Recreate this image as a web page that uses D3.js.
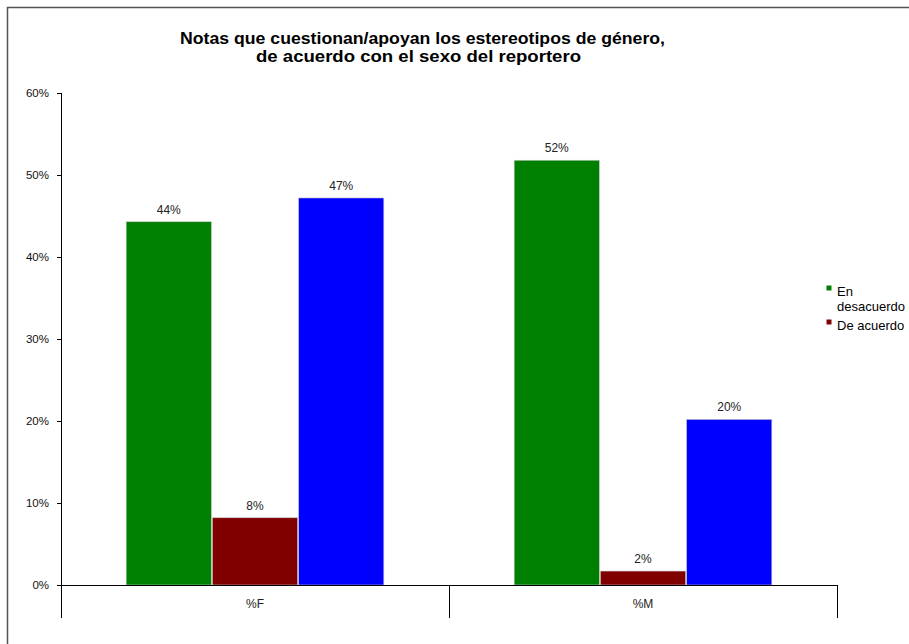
<!DOCTYPE html>
<html>
<head>
<meta charset="utf-8">
<script src="https://cdn.jsdelivr.net/npm/d3@7"></script>
<style>
  body { margin: 0; background: #fff; }
  svg { display: block; font-family: "Liberation Sans", Arial, sans-serif; }
</style>
</head>
<body>
<svg id="chart" width="909" height="644"></svg>
<script>
// Report categories and series (percentages)
const categories = ["%F", "%M"];
const seriesNames = ["En desacuerdo", "De acuerdo", ""];
const seriesColors = ["#008000", "#800000", "#0000FF"];
const enDesacuerdo = [44.3, 51.8];
const deAcuerdo = [8.2, 1.7];
const tercera = [47.2, 20.2];
const yTicks = [0, 10, 20, 30, 40, 50, 60];

const seriesValues = [enDesacuerdo, deAcuerdo, tercera];

const svg = d3.select("#chart");
const margin = { left: 61, right: 837, top: 93, bottom: 585 };

// Outer frame (only top and left edges fall inside the view)
svg.append("path")
  .attr("d", "M7.5,660 V7.5 H930")
  .attr("fill", "none")
  .attr("stroke", "#555")
  .attr("stroke-width", 1.5);

// Title (two wide bold lines)
const titleLines = [
  { text: "Notas que cuestionan/apoyan los estereotipos de género,", x: 422.5, y: 44, w: 485 },
  { text: "de acuerdo con el sexo del reportero", x: 418.5, y: 62, w: 325 }
];
titleLines.forEach(l => {
  svg.append("text")
    .attr("x", l.x).attr("y", l.y)
    .attr("text-anchor", "middle")
    .attr("font-weight", "bold")
    .attr("font-size", 16.5)
    .attr("fill", "#000")
    .attr("textLength", l.w)
    .attr("lengthAdjust", "spacingAndGlyphs")
    .text(l.text);
});

const x0 = d3.scaleBand().domain(categories).range([margin.left, margin.right]);
const bw = x0.bandwidth() / 4.5;
const y = d3.scaleLinear().domain([0, 60]).range([margin.bottom, margin.top]);

// Y axis
const yAxis = svg.append("g")
  .attr("transform", `translate(${margin.left},0)`)
  .call(d3.axisLeft(y).tickValues(yTicks).tickSize(4).tickPadding(8)
    .tickFormat(d => d + "%"));
yAxis.select(".domain").remove();
yAxis.selectAll("line").attr("stroke", "#000");
yAxis.selectAll("text").attr("font-size", 11.5).attr("fill", "#111")
  .attr("font-family", "Liberation Sans, Arial, sans-serif");
svg.append("line")
  .attr("x1", margin.left + 0.5).attr("x2", margin.left + 0.5)
  .attr("y1", margin.top).attr("y2", 618)
  .attr("stroke", "#000");

// Bars
const groups = svg.append("g").selectAll("g")
  .data(categories)
  .join("g");

groups.each(function(cat, ci) {
  const g = d3.select(this);
  const start = x0(cat) + bw * 0.75;
  seriesValues.forEach((vals, si) => {
    const v = vals[ci];
    const bx = start + si * bw;
    g.append("rect")
      .attr("x", bx + 0.5)
      .attr("y", y(v))
      .attr("width", bw - 1)
      .attr("height", y(0) - y(v))
      .attr("fill", seriesColors[si])
      .attr("stroke", "#c8c8c8")
      .attr("stroke-width", 0.6);
    g.append("text")
      .attr("x", bx + bw / 2)
      .attr("y", y(v) - 8)
      .attr("text-anchor", "middle")
      .attr("font-size", 12)
      .attr("fill", "#222")
      .text(Math.round(v) + "%");
  });
});

// Category axis with dividers
svg.append("line")
  .attr("x1", margin.left).attr("x2", margin.right)
  .attr("y1", margin.bottom + 0.5).attr("y2", margin.bottom + 0.5)
  .attr("stroke", "#000");
categories.forEach(cat => {
  const xr = x0(cat) + x0.bandwidth();
  svg.append("line")
    .attr("x1", Math.round(xr) + 0.5).attr("x2", Math.round(xr) + 0.5)
    .attr("y1", margin.bottom).attr("y2", 618)
    .attr("stroke", "#000");
  svg.append("text")
    .attr("x", x0(cat) + x0.bandwidth() / 2)
    .attr("y", 608)
    .attr("text-anchor", "middle")
    .attr("font-size", 12)
    .attr("fill", "#222")
    .text(cat);
});

// Legend (named series only)
const legend = svg.append("g");
const legendItems = [
  { color: seriesColors[0], lines: ["En", "desacuerdo"], y: 291 },
  { color: seriesColors[1], lines: ["De acuerdo"], y: 325 }
];
legendItems.forEach(item => {
  legend.append("rect")
    .attr("x", 826.5).attr("y", item.y - 5.5)
    .attr("width", 5).attr("height", 5)
    .attr("fill", item.color);
  const t = legend.append("text")
    .attr("font-size", 13)
    .attr("fill", "#000");
  item.lines.forEach((ln, i) => {
    t.append("tspan").attr("x", 837).attr("y", item.y + 4.5 + i * 15).text(ln);
  });
});
</script>
</body>
</html>
